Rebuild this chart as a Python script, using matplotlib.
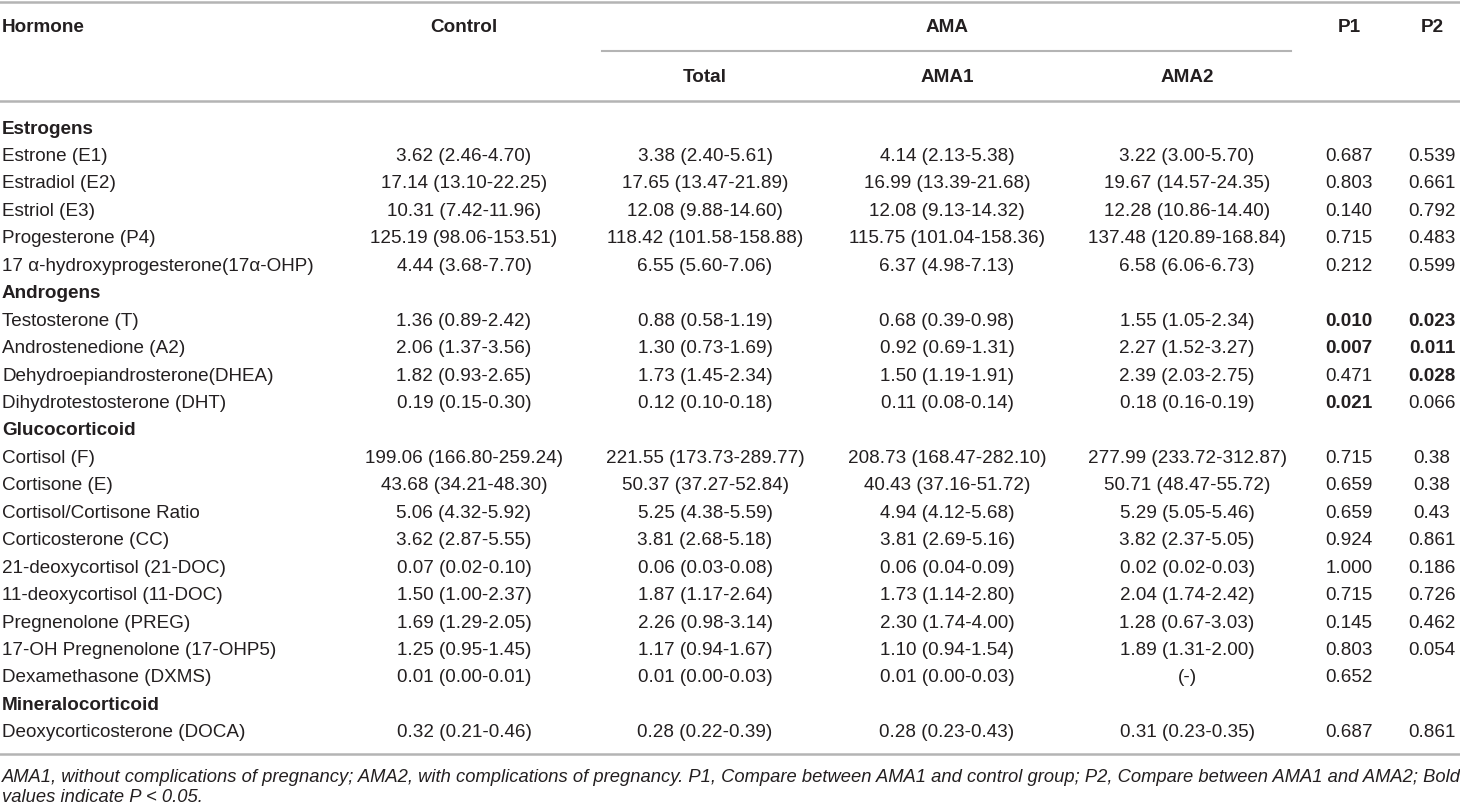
import matplotlib.pyplot as plt

# table contents
hormones = ["Estrogens", "Estrone (E1)", "Estradiol (E2)", "Estriol (E3)", "Progesterone (P4)",
            "17 \u03b1-hydroxyprogesterone(17\u03b1-OHP)",
            "Androgens", "Testosterone (T)", "Androstenedione (A2)", "Dehydroepiandrosterone(DHEA)",
            "Dihydrotestosterone (DHT)",
            "Glucocorticoid", "Cortisol (F)", "Cortisone (E)", "Cortisol/Cortisone Ratio",
            "Corticosterone (CC)", "21-deoxycortisol (21-DOC)", "11-deoxycortisol (11-DOC)",
            "Pregnenolone (PREG)", "17-OH Pregnenolone (17-OHP5)", "Dexamethasone (DXMS)",
            "Mineralocorticoid", "Deoxycorticosterone (DOCA)"]
groups = ["Estrogens", "Androgens", "Glucocorticoid", "Mineralocorticoid"]

control = ["", "3.62 (2.46-4.70)", "17.14 (13.10-22.25)", "10.31 (7.42-11.96)", "125.19 (98.06-153.51)",
           "4.44 (3.68-7.70)",
           "", "1.36 (0.89-2.42)", "2.06 (1.37-3.56)", "1.82 (0.93-2.65)", "0.19 (0.15-0.30)",
           "", "199.06 (166.80-259.24)", "43.68 (34.21-48.30)", "5.06 (4.32-5.92)", "3.62 (2.87-5.55)",
           "0.07 (0.02-0.10)", "1.50 (1.00-2.37)", "1.69 (1.29-2.05)", "1.25 (0.95-1.45)",
           "0.01 (0.00-0.01)",
           "", "0.32 (0.21-0.46)"]
total = ["", "3.38 (2.40-5.61)", "17.65 (13.47-21.89)", "12.08 (9.88-14.60)", "118.42 (101.58-158.88)",
         "6.55 (5.60-7.06)",
         "", "0.88 (0.58-1.19)", "1.30 (0.73-1.69)", "1.73 (1.45-2.34)", "0.12 (0.10-0.18)",
         "", "221.55 (173.73-289.77)", "50.37 (37.27-52.84)", "5.25 (4.38-5.59)", "3.81 (2.68-5.18)",
         "0.06 (0.03-0.08)", "1.87 (1.17-2.64)", "2.26 (0.98-3.14)", "1.17 (0.94-1.67)",
         "0.01 (0.00-0.03)",
         "", "0.28 (0.22-0.39)"]
ama1 = ["", "4.14 (2.13-5.38)", "16.99 (13.39-21.68)", "12.08 (9.13-14.32)", "115.75 (101.04-158.36)",
        "6.37 (4.98-7.13)",
        "", "0.68 (0.39-0.98)", "0.92 (0.69-1.31)", "1.50 (1.19-1.91)", "0.11 (0.08-0.14)",
        "", "208.73 (168.47-282.10)", "40.43 (37.16-51.72)", "4.94 (4.12-5.68)", "3.81 (2.69-5.16)",
        "0.06 (0.04-0.09)", "1.73 (1.14-2.80)", "2.30 (1.74-4.00)", "1.10 (0.94-1.54)",
        "0.01 (0.00-0.03)",
        "", "0.28 (0.23-0.43)"]
ama2 = ["", "3.22 (3.00-5.70)", "19.67 (14.57-24.35)", "12.28 (10.86-14.40)", "137.48 (120.89-168.84)",
        "6.58 (6.06-6.73)",
        "", "1.55 (1.05-2.34)", "2.27 (1.52-3.27)", "2.39 (2.03-2.75)", "0.18 (0.16-0.19)",
        "", "277.99 (233.72-312.87)", "50.71 (48.47-55.72)", "5.29 (5.05-5.46)", "3.82 (2.37-5.05)",
        "0.02 (0.02-0.03)", "2.04 (1.74-2.42)", "1.28 (0.67-3.03)", "1.89 (1.31-2.00)",
        "(-)",
        "", "0.31 (0.23-0.35)"]
p1 = ["", "0.687", "0.803", "0.140", "0.715", "0.212",
      "", "0.010", "0.007", "0.471", "0.021",
      "", "0.715", "0.659", "0.659", "0.924", "1.000", "0.715", "0.145", "0.803", "0.652",
      "", "0.687"]
p2 = ["", "0.539", "0.661", "0.792", "0.483", "0.599",
      "", "0.023", "0.011", "0.028", "0.066",
      "", "0.38", "0.38", "0.43", "0.861", "0.186", "0.726", "0.462", "0.054", "",
      "", "0.861"]

footnote = ["AMA1, without complications of pregnancy; AMA2, with complications of pregnancy. "
            "P1, Compare between AMA1 and control group; P2, Compare between AMA1 and AMA2; Bold",
            "values indicate P < 0.05."]

txt = "#231f20"
rule = "#b4b4b4"
fs = 13.6
plt.rcParams['font.family'] = ['Liberation Sans', 'DejaVu Sans']

fig = plt.figure(figsize=(14.6, 8.07), dpi=100)
ax = fig.add_axes([0, 0, 1, 1])
ax.set_xlim(0, 1460)
ax.set_ylim(807, 0)
ax.axis('off')

# rules
ax.plot([0, 1460], [1.5, 1.5], color=rule, lw=1.8)
ax.plot([602, 1291], [51, 51], color=rule, lw=1.5)
ax.plot([0, 1460], [100.5, 100.5], color=rule, lw=1.8)
ax.plot([0, 1460], [754, 754], color=rule, lw=1.8)

# header
cx = [464, 705, 947, 1187, 1349, 1432]
ax.text(2, 28, "Hormone", ha='left', va='center', fontsize=fs, weight='bold', color=txt)
ax.text(cx[0], 28, "Control", ha='center', va='center', fontsize=fs, weight='bold', color=txt)
ax.text(947, 28, "AMA", ha='center', va='center', fontsize=fs, weight='bold', color=txt)
ax.text(cx[4], 28, "P1", ha='center', va='center', fontsize=fs, weight='bold', color=txt)
ax.text(cx[5], 28, "P2", ha='center', va='center', fontsize=fs, weight='bold', color=txt)
for x, lab in zip(cx[1:4], ["Total", "AMA1", "AMA2"]):
    ax.text(x, 77, lab, ha='center', va='center', fontsize=fs, weight='bold', color=txt)

# body
y0, dy = 129, 27.45
for i, name in enumerate(hormones):
    y = y0 + i * dy
    if name in groups:
        ax.text(2, y, name, ha='left', va='center', fontsize=fs, weight='bold', color=txt)
        continue
    ax.text(2, y, name, ha='left', va='center', fontsize=fs, color=txt)
    cols = [control[i], total[i], ama1[i], ama2[i], p1[i], p2[i]]
    for j, val in enumerate(cols):
        w = 'normal'
        if j >= 4 and val and float(val) < 0.05:
            w = 'bold'
        ax.text(cx[j], y, val, ha='center', va='center', fontsize=fs, weight=w, color=txt)

ax.text(2, 777, footnote[0], ha='left', va='center', fontsize=13.25, style='italic', color=txt)
ax.text(2, 798, footnote[1], ha='left', va='center', fontsize=13.25, style='italic', color=txt)

fig.savefig("out.png", dpi=100)
